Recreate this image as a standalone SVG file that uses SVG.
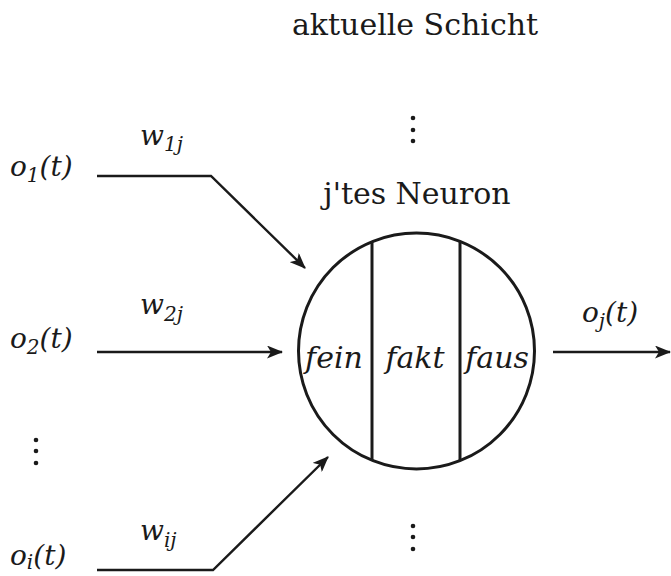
<svg xmlns="http://www.w3.org/2000/svg" width="671" height="576" viewBox="0 0 671 576">
<defs>
<style>
.t{font-family:"DejaVu Serif","Liberation Serif",serif;font-size:30px;fill:#1a1a1a}
.m{font-family:"DejaVu Serif","Liberation Serif",serif;font-style:italic;font-size:28px;fill:#1a1a1a}
.f{font-size:30px}
.s{font-size:20px}
.ln{fill:none;stroke:#1a1a1a;stroke-width:2.4}
.bd{fill:#fff;stroke:#1a1a1a;stroke-width:3}
.dot{fill:#1a1a1a}
</style>
<marker id="ah" viewBox="0 0 16 13" refX="15" refY="6.5" markerWidth="16" markerHeight="13" markerUnits="userSpaceOnUse" orient="auto">
<path d="M0,0 L16,6.5 L0,13 L4,6.5 z" fill="#1a1a1a"/>
</marker>
</defs>
<g id="title"><text class="t" x="415" y="35" text-anchor="middle">aktuelle Schicht</text></g>
<g id="dots-top" class="dot"><circle cx="413" cy="118" r="2.3"/><circle cx="413" cy="130" r="2.3"/><circle cx="413" cy="141" r="2.3"/></g>
<g id="dots-bottom" class="dot"><circle cx="413" cy="526" r="2.3"/><circle cx="413" cy="537" r="2.3"/><circle cx="413" cy="549" r="2.3"/></g>
<g id="dots-left" class="dot"><circle cx="36" cy="440" r="2.3"/><circle cx="36" cy="451" r="2.3"/><circle cx="36" cy="463" r="2.3"/></g>
<g id="neuron">
<text class="t" x="417" y="204" text-anchor="middle">j'tes Neuron</text>
<circle class="bd" cx="416.5" cy="351" r="118"/>
<line class="bd" x1="372" y1="241" x2="372" y2="461"/>
<line class="bd" x1="460" y1="242" x2="460" y2="460"/>
<text class="m f" x="334" y="368" text-anchor="middle">fein</text>
<text class="m f" x="415" y="368" text-anchor="middle">fakt</text>
<text class="m f" x="497" y="368" text-anchor="middle">faus</text>
</g>
<g id="in1"><text class="m" x="10" y="176">o<tspan class="s" dy="6">1</tspan><tspan dy="-6">(t)</tspan></text></g>
<g id="in2"><text class="m" x="10" y="348">o<tspan class="s" dy="6">2</tspan><tspan dy="-6">(t)</tspan></text></g>
<g id="ini"><text class="m" x="10" y="565">o<tspan class="s" dy="4">i</tspan><tspan dy="-4">(t)</tspan></text></g>
<g id="out"><text class="m" x="582" y="322">o<tspan class="s" dy="6">j</tspan><tspan dy="-6">(t)</tspan></text></g>
<g id="connectors">
<polyline class="ln" points="97,176 211,176 305,268" marker-end="url(#ah)"/>
<line class="ln" x1="97" y1="352" x2="282" y2="352" marker-end="url(#ah)"/>
<polyline class="ln" points="97,570 213,570 328,457" marker-end="url(#ah)"/>
<line class="ln" x1="553" y1="352" x2="670" y2="352" marker-end="url(#ah)"/>
<text class="m" x="140" y="145">w<tspan class="s" dy="6">1j</tspan></text>
<text class="m" x="140" y="314">w<tspan class="s" dy="7">2j</tspan></text>
<text class="m" x="140" y="540">w<tspan class="s" dy="7">ij</tspan></text>
</g>
</svg>
